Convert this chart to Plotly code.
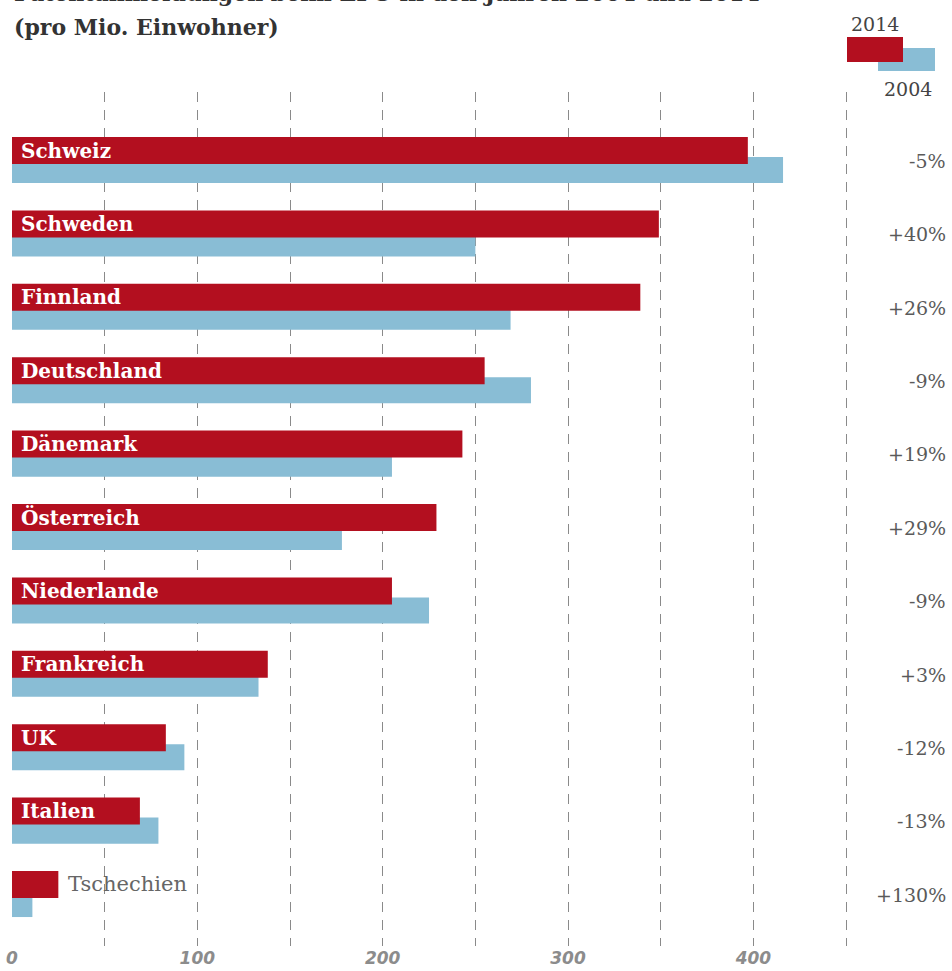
import plotly.graph_objects as go

# ---- data ----
countries = ["Schweiz", "Schweden", "Finnland", "Deutschland", "Dänemark", "Österreich",
             "Niederlande", "Frankreich", "UK", "Italien", "Tschechien"]
v2014 = [397, 349, 339, 255, 243, 229, 205, 138, 83, 69, 25]
v2004 = [416, 250, 269, 280, 205, 178, 225, 133, 93, 79, 11]
pct_labels = ["-5%", "+40%", "+26%", "-9%", "+19%", "+29%", "-9%", "+3%", "-12%", "-13%", "+130%"]
tick_vals = [0, 50, 100, 150, 200, 250, 300, 350, 400, 450]
tick_text = ["0", "", "100", "", "200", "", "300", "", "400", ""]
title_line1 = "Patentanmeldungen beim EPO in den Jahren 2004 und 2014"
title_line2 = "(pro Mio. Einwohner)"
legend_years = ["2014", "2004"]

RED = "#b30f1f"
BLUE = "#89bdd5"
W, H = 952, 971
ML, MR, MT, MB = 12, 4, 92, 25
PW, PH = W - ML - MR, H - MT - MB


def xp(px):
    return (px - ML) / PW


def yp(py):
    return 1 + (MT - py) / PH


pos = list(range(len(countries)))

fig = go.Figure()
fig.add_trace(go.Bar(y=pos, x=v2004, orientation="h", offset=0.0885, width=0.355,
                     marker=dict(color=BLUE, line=dict(width=0)), name="2004"))
fig.add_trace(go.Bar(y=pos, x=v2014, orientation="h", offset=-0.184, width=0.368,
                     marker=dict(color=RED, line=dict(width=0)), name="2014"))

ann = []
for i, (c, v) in enumerate(zip(countries, v2014)):
    if v >= 60:
        ann.append(dict(x=0, y=i, xref="x", yref="y", text=c, showarrow=False,
                        xanchor="left", yanchor="middle", xshift=7,
                        font=dict(family="DejaVu Serif", size=20, color="white", weight="bold")))
    else:
        ann.append(dict(x=v, y=i, xref="x", yref="y", text=c, showarrow=False,
                        xanchor="left", yanchor="middle", xshift=8,
                        font=dict(family="DejaVu Serif", size=21, color="#666666")))
for i, t in enumerate(pct_labels):
    ann.append(dict(x=1, y=i + 0.14, xref="paper", yref="y", text=t, showarrow=False,
                    xanchor="right", yanchor="middle",
                    font=dict(family="DejaVu Serif", size=19, color="#5a5a5a")))

# title (first line is cut at the top edge, as in the reference)
ann.append(dict(x=xp(12), y=yp(8), xref="paper", yref="paper", text=title_line1, showarrow=False,
                xanchor="left", yanchor="bottom",
                font=dict(family="DejaVu Serif", size=22, color="#333333", weight="bold")))
ann.append(dict(x=xp(12), y=yp(27), xref="paper", yref="paper", text=title_line2, showarrow=False,
                xanchor="left", yanchor="middle",
                font=dict(family="DejaVu Serif", size=22, color="#333333", weight="bold")))
# legend texts
ann.append(dict(x=xp(875), y=yp(24), xref="paper", yref="paper", text=legend_years[0], showarrow=False,
                xanchor="center", yanchor="middle",
                font=dict(family="DejaVu Serif", size=19, color="#444444")))
ann.append(dict(x=xp(908), y=yp(89), xref="paper", yref="paper", text=legend_years[1], showarrow=False,
                xanchor="center", yanchor="middle",
                font=dict(family="DejaVu Serif", size=19, color="#444444")))

shapes = [
    dict(type="rect", xref="paper", yref="paper", x0=xp(878), x1=xp(935), y0=yp(71), y1=yp(48),
         fillcolor=BLUE, line=dict(width=0)),
    dict(type="rect", xref="paper", yref="paper", x0=xp(847), x1=xp(903), y0=yp(62), y1=yp(37),
         fillcolor=RED, line=dict(width=0)),
]

fig.update_layout(
    width=W, height=H, margin=dict(l=ML, r=MR, t=MT, b=MB, autoexpand=False),
    paper_bgcolor="white", plot_bgcolor="white",
    barmode="overlay", showlegend=False,
    annotations=ann, shapes=shapes,
    xaxis=dict(range=[0, 505], tickmode="array", tickvals=tick_vals, ticktext=tick_text,
               showgrid=True, gridcolor="#8a8a8a", gridwidth=1, griddash="10px,8px",
               zeroline=True, zerolinecolor="rgba(0,0,0,0)", showline=False, ticks="",
               automargin=False, ticklabelstandoff=0,
               tickfont=dict(family="DejaVu Sans", size=17, color="#8c8c8c",
                             style="italic", weight="bold")),
    yaxis=dict(range=[10.838, -0.797], showticklabels=False, showgrid=False, zeroline=False,
               showline=False, ticks="", automargin=False),
)

fig.write_html("out.html", config={"displayModeBar": False},
               post_script="document.body.style.margin='0';document.body.style.overflow='hidden';")
